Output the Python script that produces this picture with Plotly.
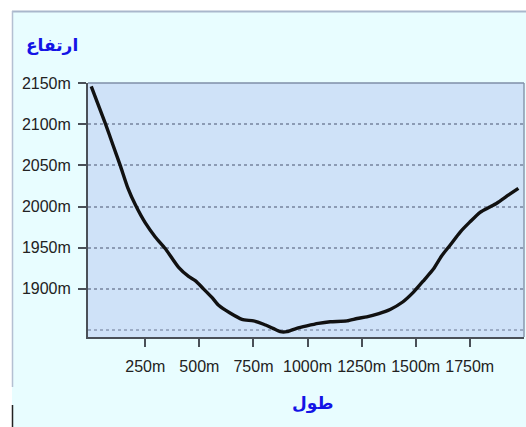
import plotly.graph_objects as go

# Distance along route (m) and elevation (m)
distance_m = [0, 65, 100, 134, 170, 204, 250, 296, 342, 404, 450, 481, 519, 560, 589,
              640, 697, 750, 797, 840, 874, 905, 950, 997, 1050, 1105, 1182, 1230,
              1274, 1330, 1382, 1440, 1490, 1540, 1582, 1620, 1659, 1706, 1750, 1798,
              1840, 1875, 1930, 1975]
elevation_m = [2146, 2101, 2075, 2050, 2022, 2002, 1980, 1963, 1949, 1926, 1915, 1910,
               1900, 1889, 1880, 1871, 1863, 1861, 1857, 1852, 1848, 1848, 1852, 1855,
               1858, 1860, 1861, 1864, 1866, 1870, 1875, 1884, 1896, 1911, 1924, 1940,
               1953, 1969, 1981, 1993, 1999, 2004, 2014, 2022]

x_ticks = [250, 500, 750, 1000, 1250, 1500, 1750]
x_tick_labels = ["250m", "500m", "750m", "1000m", "1250m", "1500m", "1750m"]
y_ticks = [1900, 1950, 2000, 2050, 2100, 2150]
y_tick_labels = ["1900m", "1950m", "2000m", "2050m", "2100m", "2150m"]

y_title = "ارتفاع"
x_title = "طول"

fig = go.Figure()
fig.add_trace(go.Scatter(
    x=distance_m, y=elevation_m, mode="lines", line_shape="spline",
    line=dict(color="#111111", width=3.4, smoothing=0.6), hoverinfo="skip", showlegend=False,
))

grid_color = "#8c9bb4"
axis_color = "#4a5058"
tick_font = dict(family="Liberation Sans, Arial, sans-serif", size=16, color="#222222")

fig.update_layout(
    width=526, height=427,
    margin=dict(l=88, r=2, t=83, b=90),
    paper_bgcolor="#e8fdff",
    plot_bgcolor="#cfe2f8",
    xaxis=dict(
        range=[-15, 2001], tickvals=x_ticks, ticktext=x_tick_labels,
        showgrid=False, zeroline=False, showline=True, linecolor=axis_color,
        linewidth=2, ticks="outside", ticklen=8, tickwidth=2, tickcolor=axis_color,
        tickfont=tick_font, ticklabelstandoff=6,
    ),
    yaxis=dict(
        range=[1841.5, 2150], tickvals=y_ticks, ticktext=y_tick_labels,
        showgrid=True, gridcolor=grid_color, griddash="dot", gridwidth=1.5,
        zeroline=False, showline=True, linecolor=axis_color, linewidth=2,
        ticks="outside", ticklen=8, tickwidth=2, tickcolor=axis_color,
        tickfont=tick_font, ticklabelstandoff=4,
    ),
    shapes=[
        dict(type="line", xref="paper", yref="y", x0=0, x1=1, y0=1850, y1=1850,
             line=dict(color=grid_color, width=1.5, dash="dot"), layer="below"),
        dict(type="line", xref="paper", yref="paper", x0=1, x1=1, y0=0, y1=1,
             line=dict(color="#8a98ae", width=1.5)),
        dict(type="line", xref="paper", yref="paper", x0=0, x1=1, y0=1, y1=1,
             line=dict(color="#7f8ea8", width=1.5)),
        dict(type="rect", xref="paper", yref="paper", x0=-88/436, x1=1 + 2/436,
             y0=1 + 72/254, y1=1 + 83/254, fillcolor="white", line=dict(width=0), layer="below"),
        dict(type="rect", xref="paper", yref="paper", x0=-88/436, x1=-76/436,
             y0=-90/254, y1=1 + 83/254, fillcolor="white", line=dict(width=0), layer="below"),
        dict(type="line", xref="paper", yref="paper", x0=-76/436, x1=1 + 2/436,
             y0=1 + 71.5/254, y1=1 + 71.5/254, line=dict(color="#a9b7cc", width=2)),
        dict(type="line", xref="paper", yref="paper", x0=-75.5/436, x1=-75.5/436,
             y0=-50/254, y1=1 + 72/254, line=dict(color="#b4c0d2", width=1.5)),
        dict(type="line", xref="paper", yref="paper", x0=-75.5/436, x1=-75.5/436,
             y0=-90/254, y1=-68/254, line=dict(color="#222222", width=1.5)),
    ],
    annotations=[
        dict(text=y_title, xref="paper", yref="paper", x=-36/436, y=1 + 38/254,
             showarrow=False, xanchor="center", yanchor="middle",
             font=dict(family="DejaVu Sans", size=17, color="#1414e6", weight="bold")),
        dict(text=x_title, xref="paper", yref="paper", x=224/436, y=-66/254,
             showarrow=False, xanchor="center", yanchor="middle",
             font=dict(family="DejaVu Sans", size=17, color="#1414e6", weight="bold")),
    ],
)

fig.write_html("out.html", config={"displayModeBar": False},
               post_script="document.body.style.margin='0';document.body.style.overflow='hidden';")
